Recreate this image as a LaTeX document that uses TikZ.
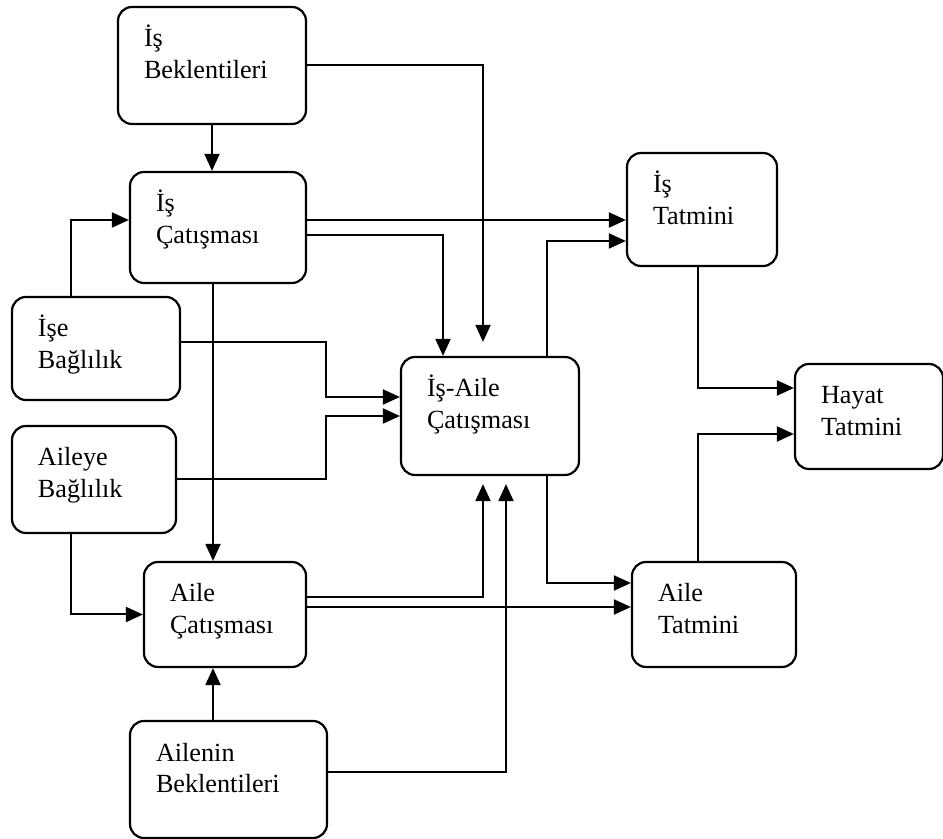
\documentclass[tikz,border=0pt]{standalone}
\usepackage{fontspec}
\setmainfont{Liberation Serif}
\usetikzlibrary{shapes, arrows.meta}
\tikzstyle{block} = [rectangle, draw, rounded corners=7pt, line width=1.1pt, align=left, inner xsep=13pt, inner ysep=4pt, text height=10pt, font=\fontsize{13.1}{15.75}\selectfont]
\tikzstyle{line} = [draw, line width=1pt, -{Triangle[length=8.5pt, width=7.5pt]}]

\begin{document}
\begin{tikzpicture}[x=0.5pt, y=-0.5pt]
    \useasboundingbox (0,0) rectangle (943,839);

    \node[block, minimum width=94pt, minimum height=58.5pt, text width=68pt, text depth=28.5pt] (isbek) at (212,65.5) {İş\\Beklentileri};
    \node[block, minimum width=88pt, minimum height=55.5pt, text width=62pt, text depth=25.5pt] (iscat) at (218,227.5) {İş\\Çatışması};
    \node[block, minimum width=84pt, minimum height=51.5pt, text width=58pt, text depth=21.5pt] (isebag) at (96,348.5) {İşe\\Bağlılık};
    \node[block, minimum width=82pt, minimum height=53.5pt, text width=56pt, text depth=23.5pt] (ailebag) at (94,479.5) {Aileye\\Bağlılık};
    \node[block, minimum width=81pt, minimum height=52.5pt, text width=55pt, text depth=22.5pt] (ailecat) at (225,614.5) {Aile\\Çatışması};
    \node[block, minimum width=98.5pt, minimum height=58.5pt, text width=72.5pt, text depth=28.5pt] (ailebek) at (228.5,779.5) {Ailenin\\Beklentileri};
    \node[block, minimum width=89pt, minimum height=59pt, text width=63pt, text depth=29pt] (isaile) at (490,416) {İş-Aile\\Çatışması};
    \node[block, minimum width=75pt, minimum height=56.5pt, text width=49pt, text depth=26.5pt] (istat) at (702,209.5) {İş\\Tatmini};
    \node[block, minimum width=74pt, minimum height=52.5pt, text width=48pt, text depth=22.5pt] (hayat) at (869,416.5) {Hayat\\Tatmini};
    \node[block, minimum width=82pt, minimum height=52.5pt, text width=56pt, text depth=22.5pt] (ailetat) at (714,614.5) {Aile\\Tatmini};

    \path[line] (isbek.south) -- (isbek.south |- iscat.north);
    \path[line] (isbek.east) -| ([shift={(-7,-14)}]isaile.north);

    \path[line] ([shift={(-25,0)}]isebag.north) |- ([shift={(0,-7.5)}]iscat.west);
    \path[line] ([shift={(0,-7.5)}]iscat.east) -- ([shift={(0,-7.5)}]iscat.east -| istat.west);
    \path[line] ([shift={(0,7.5)}]iscat.east) -| ([shift={(-47,0)}]isaile.north);
    \path[line] ([shift={(-5,0)}]iscat.south) -- ([shift={(-5,0)}]iscat.south |- ailecat.north);

    \path[line] ([shift={(0,-6.5)}]isebag.east) -| ([shift={(-74,-19)}]isaile.west) -- ([shift={(0,-19)}]isaile.west);
    \path[line] (ailebag.east) -| ([shift={(-74,0)}]isaile.west) -- (isaile.west);
    \path[line] ([shift={(-23,0)}]ailebag.south) |- (ailecat.west);

    \path[line] ([shift={(-15.5,0)}]ailebek.north) -- ([shift={(-15.5,0)}]ailebek.north |- ailecat.south);
    \path[line] ([shift={(0,-17.5)}]ailecat.east) -| ([shift={(-7,8)}]isaile.south);
    \path[line] ([shift={(0,-7.5)}]ailecat.east) -- ([shift={(0,-7.5)}]ailecat.east -| ailetat.west);
    \path[line] ([shift={(0,-7.5)}]ailebek.east) -| ([shift={(16,8)}]isaile.south);

    \path[line] ([shift={(57,0)}]isaile.north) |- ([shift={(0,31.5)}]istat.west);
    \path[line] ([shift={(57,0)}]isaile.south) |- ([shift={(0,-31.5)}]ailetat.west);
    \path[line] ([shift={(-4,0)}]istat.south) |- ([shift={(0,-28.5)}]hayat.west);
    \path[line] ([shift={(-16,0)}]ailetat.north) |- ([shift={(0,17.5)}]hayat.west);
\end{tikzpicture}
\end{document}
